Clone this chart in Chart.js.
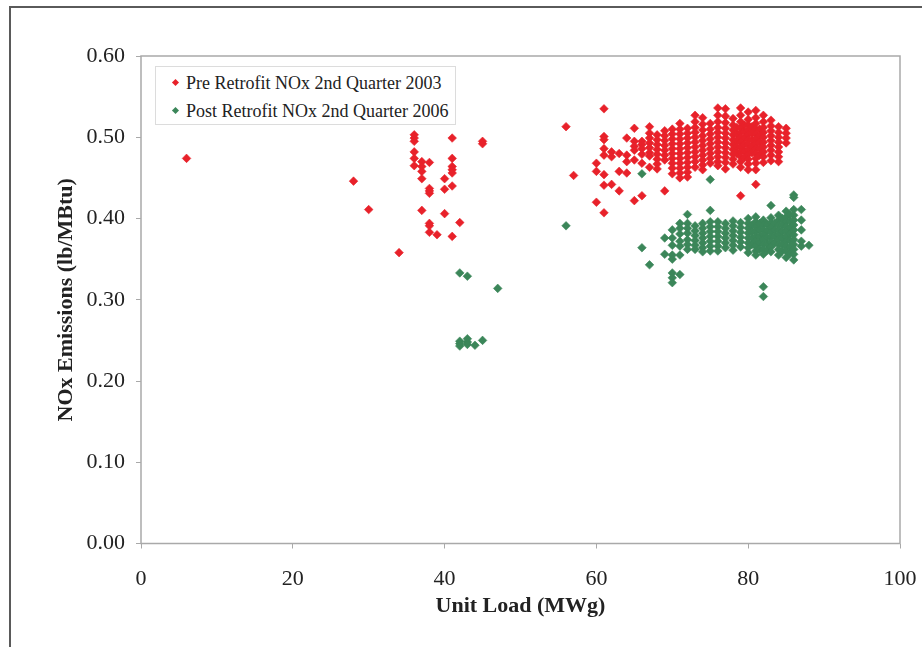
<!DOCTYPE html>
<html>
<head>
<meta charset="utf-8">
<script src="https://cdn.jsdelivr.net/npm/chart.js@4/dist/chart.umd.min.js"></script>
<style>
  html, body { margin: 0; padding: 0; background: #fff; }
  #wrap { position: relative; width: 922px; height: 647px; overflow: hidden; }
  #frame { position: absolute; left: 9px; top: 6px; right: -4px; bottom: -4px;
           border-left: 2px solid #5a5a5a; border-top: 2px solid #5a5a5a; }
  #c { position: absolute; left: 0; top: 0; }
  #legend { position: absolute; left: 155px; top: 66px; width: 299px; height: 57px;
            border: 1px solid #dcdcdc; background: #fff;
            font: 18px "Liberation Serif", "Times New Roman", serif; color: #222; }
  #legend .row { position: absolute; left: 0; height: 22px; line-height: 22px; white-space: nowrap; }
  #legend .mark { position: absolute; left: 17px; top: 8px; width: 5px; height: 5px; transform: rotate(45deg); }
  #legend .txt { position: absolute; left: 30px; top: 0; }
</style>
</head>
<body>
<div id="wrap">
  <div id="frame"></div>
  <canvas id="c" width="922" height="647"></canvas>
  <div id="legend"></div>
</div>
<script>
(() => {
  "use strict";

  // series names
  const SERIES = ["Pre Retrofit NOx 2nd Quarter 2003", "Post Retrofit NOx 2nd Quarter 2006"];
  const COLORS = ["#e8212a", "#3b8659"];

  // axis ticks
  const X_TICKS = [0, 20, 40, 60, 80, 100];
  const Y_TICKS = [0.0, 0.1, 0.2, 0.3, 0.4, 0.5, 0.6];

  // pre retrofit: unit load columns (MWg) and the NOx readings seen in each column (lb/MBtu)
  const preLoad = [6, 28, 30, 34, 36, 37, 38, 39, 40, 41, 42, 45, 56, 57, 60, 61, 62, 63, 64, 65,
    66, 67, 68, 69, 70, 71, 72, 73, 74, 75, 76, 77, 78, 78.5, 79, 79.5, 80, 80.5, 81, 81.5, 82, 83, 84, 85];
  const preNox = [
    [0.474],
    [0.446],
    [0.411],
    [0.358],
    [0.503, 0.499, 0.495, 0.482, 0.474, 0.465],
    [0.470, 0.464, 0.458, 0.449, 0.410],
    [0.469, 0.437, 0.434, 0.431, 0.394, 0.391, 0.383],
    [0.380],
    [0.449, 0.436, 0.406],
    [0.499, 0.474, 0.464, 0.460, 0.456, 0.440, 0.378],
    [0.395],
    [0.495, 0.492],
    [0.513],
    [0.453],
    [0.468, 0.458, 0.420],
    [0.535, 0.501, 0.497, 0.486, 0.478, 0.454, 0.441, 0.407],
    [0.482, 0.476, 0.442],
    [0.480, 0.458, 0.434],
    [0.499, 0.478, 0.470, 0.456],
    [0.511, 0.495, 0.489, 0.484, 0.472, 0.422],
    [0.495, 0.491, 0.486, 0.479, 0.468, 0.428],
    [0.513, 0.505, 0.499, 0.493, 0.487, 0.481, 0.477, 0.463],
    [0.503, 0.497, 0.491, 0.485, 0.479, 0.473, 0.467, 0.461],
    [0.508, 0.502, 0.496, 0.490, 0.484, 0.478, 0.472, 0.434],
    [0.510, 0.504, 0.498, 0.492, 0.486, 0.480, 0.474, 0.468, 0.462, 0.455],
    [0.517, 0.510, 0.504, 0.498, 0.492, 0.486, 0.480, 0.474, 0.468, 0.462, 0.456, 0.450],
    [0.511, 0.505, 0.499, 0.493, 0.487, 0.481, 0.475, 0.469, 0.463, 0.457, 0.451],
    [0.527, 0.519, 0.512, 0.506, 0.500, 0.494, 0.488, 0.482, 0.476, 0.470, 0.463],
    [0.524, 0.516, 0.509, 0.502, 0.496, 0.490, 0.484, 0.478, 0.472, 0.466, 0.460],
    [0.517, 0.510, 0.504, 0.498, 0.492, 0.486, 0.480, 0.474, 0.468],
    [0.536, 0.527, 0.519, 0.512, 0.506, 0.500, 0.494, 0.488, 0.482, 0.476, 0.470, 0.465],
    [0.535, 0.526, 0.518, 0.511, 0.505, 0.499, 0.493, 0.487, 0.481, 0.475, 0.469, 0.461],
    [0.523, 0.515, 0.509, 0.503, 0.497, 0.491, 0.485, 0.479, 0.473, 0.467],
    [0.512, 0.504, 0.496, 0.488, 0.480],
    [0.536, 0.527, 0.519, 0.512, 0.506, 0.500, 0.494, 0.488, 0.482, 0.476, 0.470, 0.463, 0.428],
    [0.515, 0.507, 0.499, 0.491, 0.483, 0.475],
    [0.531, 0.522, 0.515, 0.509, 0.503, 0.497, 0.491, 0.485, 0.479, 0.473, 0.467, 0.460],
    [0.513, 0.505, 0.497, 0.489, 0.481],
    [0.533, 0.524, 0.517, 0.510, 0.504, 0.498, 0.492, 0.486, 0.480, 0.474, 0.468, 0.460, 0.442],
    [0.510, 0.502, 0.494, 0.486, 0.478],
    [0.527, 0.519, 0.512, 0.506, 0.500, 0.494, 0.488, 0.482, 0.476, 0.469],
    [0.521, 0.514, 0.508, 0.502, 0.496, 0.490, 0.484, 0.478, 0.471],
    [0.513, 0.506, 0.500, 0.494, 0.488, 0.482, 0.476, 0.470],
    [0.511, 0.505, 0.499, 0.493]
  ];

  // post retrofit
  const postLoad = [42, 43, 44, 45, 47, 56, 66, 67, 69, 70, 71, 72, 73, 74, 75, 76, 77, 78, 79, 80,
    80.5, 81, 81.5, 82, 82.5, 83, 83.5, 84, 84.5, 85, 85.5, 86, 87, 88];
  const postNox = [
    [0.333, 0.249, 0.246, 0.243],
    [0.329, 0.252, 0.248, 0.245],
    [0.244],
    [0.250],
    [0.314],
    [0.391],
    [0.455, 0.364],
    [0.343],
    [0.376, 0.356],
    [0.386, 0.376, 0.367, 0.355, 0.350, 0.333, 0.327, 0.321],
    [0.394, 0.388, 0.381, 0.372, 0.366, 0.355, 0.331],
    [0.405, 0.394, 0.388, 0.382, 0.374, 0.368, 0.362],
    [0.391, 0.385, 0.379, 0.373, 0.367, 0.362],
    [0.394, 0.388, 0.382, 0.376, 0.370, 0.364, 0.359],
    [0.448, 0.410, 0.396, 0.390, 0.384, 0.378, 0.372, 0.366, 0.360],
    [0.396, 0.390, 0.384, 0.378, 0.372, 0.366, 0.360],
    [0.394, 0.388, 0.382, 0.376, 0.370, 0.364],
    [0.397, 0.391, 0.385, 0.379, 0.373, 0.367, 0.361],
    [0.395, 0.389, 0.383, 0.377, 0.371, 0.365],
    [0.400, 0.394, 0.388, 0.382, 0.376, 0.370, 0.364, 0.358],
    [0.392, 0.384, 0.376, 0.368],
    [0.402, 0.396, 0.390, 0.384, 0.378, 0.372, 0.366, 0.360, 0.355],
    [0.394, 0.386, 0.378, 0.370, 0.362],
    [0.398, 0.392, 0.386, 0.380, 0.374, 0.368, 0.362, 0.356, 0.316, 0.304],
    [0.393, 0.385, 0.377, 0.369, 0.361],
    [0.416, 0.401, 0.395, 0.389, 0.383, 0.377, 0.371, 0.365, 0.359],
    [0.394, 0.386, 0.378, 0.370],
    [0.404, 0.398, 0.392, 0.386, 0.380, 0.374, 0.368, 0.362, 0.355],
    [0.400, 0.392, 0.384, 0.376, 0.368, 0.360],
    [0.409, 0.402, 0.396, 0.390, 0.384, 0.378, 0.372, 0.366, 0.360, 0.352],
    [0.405, 0.397, 0.389, 0.381, 0.373, 0.365, 0.357],
    [0.429, 0.426, 0.411, 0.404, 0.398, 0.392, 0.386, 0.380, 0.374, 0.368, 0.362, 0.356, 0.349],
    [0.411, 0.398, 0.386, 0.372, 0.366],
    [0.367]
  ];

  const FONT = '"Liberation Serif", "Times New Roman", serif';
  const AXIS = "#a9a9a9";

  function toPoints(loads, cols) {
    const pts = [];
    loads.forEach((x, i) => {
      for (const y of cols[i]) pts.push({ x, y });
    });
    return pts;
  }

  // full plot box outline
  const plotBox = {
    id: "plotBox",
    beforeDatasetsDraw(chart) {
      const { ctx, chartArea: a } = chart;
      ctx.save();
      ctx.strokeStyle = AXIS;
      ctx.lineWidth = 1.5;
      ctx.strokeRect(a.left, a.top, a.right - a.left, a.bottom - a.top);
      ctx.restore();
    }
  };

  const ds = (i, pts) => ({
    label: SERIES[i],
    data: pts,
    pointStyle: "rectRot",
    pointRadius: 4.3,
    pointHoverRadius: 4.3,
    pointBorderWidth: 0.6,
    backgroundColor: COLORS[i],
    borderColor: COLORS[i],
    showLine: false
  });

  const chart = new Chart(document.getElementById("c"), {
    type: "scatter",
    data: {
      datasets: [ds(0, toPoints(preLoad, preNox)), ds(1, toPoints(postLoad, postNox))]
    },
    plugins: [plotBox],
    options: {
      responsive: false,
      animation: false,
      devicePixelRatio: 1,
      layout: { padding: { left: 0, top: 56, right: 22, bottom: 0 } },
      plugins: { legend: { display: false }, tooltip: { enabled: false } },
      scales: {
        x: {
          type: "linear",
          min: X_TICKS[0],
          max: X_TICKS[X_TICKS.length - 1],
          afterFit: s => { s.height = 103.5; s.paddingLeft = 0; s.paddingRight = 0; },
          afterBuildTicks: s => { s.ticks = X_TICKS.map(v => ({ value: v })); },
          border: { display: false },
          grid: { drawOnChartArea: false, drawTicks: true, tickLength: 5, color: AXIS, lineWidth: 1 },
          ticks: { color: "#222", font: { family: FONT, size: 22 }, padding: 18, maxRotation: 0 },
          title: {
            display: true, text: "Unit Load (MWg)", color: "#222",
            font: { family: FONT, size: 22, weight: "bold" }, padding: { top: 0, bottom: 27 }
          }
        },
        y: {
          type: "linear",
          min: Y_TICKS[0],
          max: Y_TICKS[Y_TICKS.length - 1],
          afterFit: s => { s.width = 141; },
          afterBuildTicks: s => { s.ticks = Y_TICKS.map(v => ({ value: v })); },
          border: { display: false },
          grid: { drawOnChartArea: false, drawTicks: true, tickLength: 5, color: AXIS, lineWidth: 1 },
          ticks: { color: "#222", font: { family: FONT, size: 22 }, padding: 11, callback: v => Number(v).toFixed(2) },
          title: {
            display: true, text: "NOx Emissions (lb/MBtu)", color: "#222",
            font: { family: FONT, size: 22, weight: "bold" }, padding: { top: 53, bottom: 0 }
          }
        }
      }
    }
  });

  // legend box built from the datasets
  const $legend = document.getElementById("legend");
  $legend.innerHTML = chart.data.datasets.map((d, i) => `
    <div class="row" style="top:${5 + i * 28}px;">
      <span class="mark" style="background:${d.backgroundColor};"></span>
      <span class="txt">${d.label}</span>
    </div>`).join("");
})();
</script>
</body>
</html>
